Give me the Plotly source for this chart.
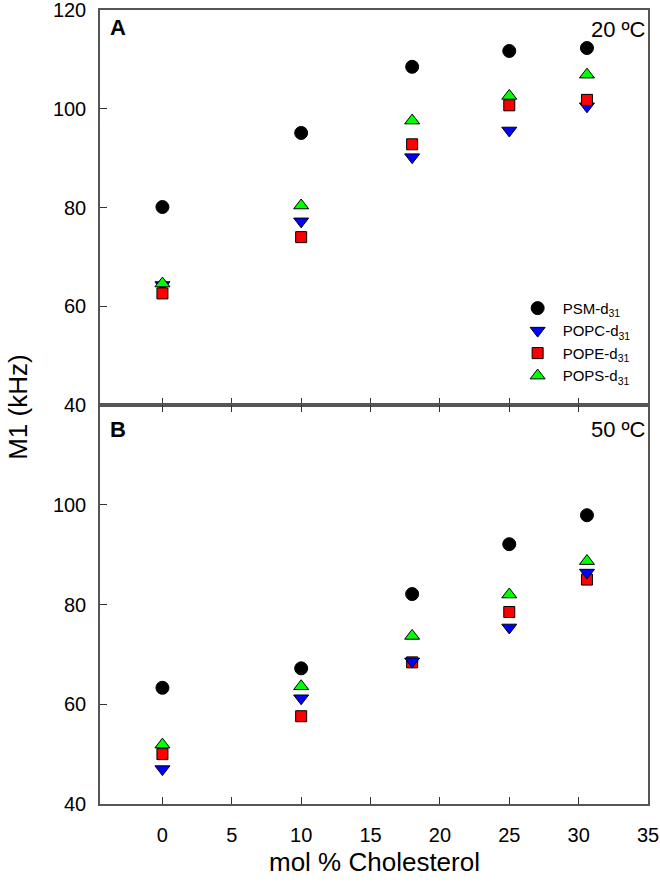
import plotly.graph_objects as go

# ---- data ----
chol = [0, 10, 18, 25, 30.6]

# Panel A: 20 ºC
psm_20 = [80.1, 95.1, 108.5, 111.7, 112.3]
popc_20 = [64.3, 77.2, 90.2, 95.6, 100.5]
pope_20 = [62.6, 74.0, 92.8, 100.7, 101.8]
pops_20 = [64.6, 80.4, 97.6, 102.6, 106.9]

# Panel B: 50 ºC
psm_50 = [63.3, 67.2, 82.1, 92.1, 97.9]
popc_50 = [47.0, 61.2, 68.6, 75.4, 86.4]
pope_50 = [50.0, 57.6, 68.4, 78.5, 85.0]
pops_50 = [51.9, 63.6, 73.7, 82.0, 88.7]

names = ["PSM-d<sub>31</sub>", "POPC-d<sub>31</sub>", "POPE-d<sub>31</sub>", "POPS-d<sub>31</sub>"]
symbols = ["circle", "triangle-down", "square", "triangle-up"]
colors = ["#000000", "#0000FF", "#FF0000", "#00FF00"]
sizes = [13, 13, 11, 13]

x_ticks = [0, 5, 10, 15, 20, 25, 30, 35]
yA_ticks = [40, 60, 80, 100, 120]
yB_ticks = [40, 60, 80, 100]

FONT = "Arial, Liberation Sans, sans-serif"

fig = go.Figure()

series_A = [psm_20, popc_20, pope_20, pops_20]
series_B = [psm_50, popc_50, pope_50, pops_50]

for i in [0, 1, 2, 3]:
    fig.add_trace(go.Scatter(
        x=chol, y=series_A[i], mode="markers", name=names[i],
        legendrank=i + 1,
        marker=dict(symbol=symbols[i], color=colors[i], size=sizes[i],
                    line=dict(color="black", width=1)),
        xaxis="x", yaxis="y", showlegend=True))

for i in [0, 2, 1, 3]:
    fig.add_trace(go.Scatter(
        x=chol, y=series_B[i], mode="markers", name=names[i],
        marker=dict(symbol=symbols[i], color=colors[i], size=sizes[i],
                    line=dict(color="black", width=1)),
        xaxis="x2", yaxis="y2", showlegend=False))

split = 0.5025
axis_common = dict(showline=True, linecolor="#555555", linewidth=1.5,
                   ticks="inside", ticklen=7, tickcolor="#333333", tickwidth=1,
                   showgrid=False, zeroline=False, automargin=False,
                   ticklabeloverflow="allow")

fig.update_layout(
    width=660, height=886,
    margin=dict(l=100, r=12, t=10, b=82),
    paper_bgcolor="white", plot_bgcolor="white",
    font=dict(family=FONT, color="black"),
    xaxis=dict(domain=[0, 1], range=[-4.5, 35], anchor="y", tickvals=x_ticks,
               showticklabels=False, mirror=True, **axis_common),
    yaxis=dict(domain=[split, 1], range=[40, 120], anchor="x", tickvals=yA_ticks,
               mirror=True, tickfont=dict(size=20), ticklabelstandoff=8, **axis_common),
    xaxis2=dict(domain=[0, 1], range=[-4.5, 35], anchor="y2", tickvals=x_ticks,
                mirror="ticks", tickfont=dict(size=20), ticklabelstandoff=12, **axis_common),
    yaxis2=dict(domain=[0, split], range=[40, 120], anchor="x2", tickvals=yB_ticks,
                mirror=True, tickfont=dict(size=20), ticklabelstandoff=8, **axis_common),
    legend=dict(x=0.753, y=0.645, xanchor="left", yanchor="top",
                bgcolor="rgba(0,0,0,0)", font=dict(size=15), tracegroupgap=0,
                itemwidth=40),
    annotations=[
        dict(text="<b>A</b>", x=0.033, y=0.978, xref="paper", yref="paper",
             showarrow=False, font=dict(size=22), xanchor="center", yanchor="middle"),
        dict(text="<b>B</b>", x=0.033, y=0.472, xref="paper", yref="paper",
             showarrow=False, font=dict(size=22), xanchor="center", yanchor="middle"),
        dict(text="20 ºC", x=1.0, y=0.976, xref="paper", yref="paper",
             showarrow=False, font=dict(size=22), xanchor="right", yanchor="middle"),
        dict(text="50 ºC", x=1.0, y=0.472, xref="paper", yref="paper",
             showarrow=False, font=dict(size=22), xanchor="right", yanchor="middle"),
        dict(text="M1 (kHz)", x=-0.15, y=0.5, xref="paper", yref="paper",
             showarrow=False, font=dict(size=26), textangle=-90,
             xanchor="center", yanchor="middle"),
        dict(text="mol % Cholesterol", x=0.5, y=-0.073, xref="paper", yref="paper",
             showarrow=False, font=dict(size=26), xanchor="center", yanchor="middle"),
    ],
)

fig.write_html("out.html", config={"displayModeBar": False},
               post_script="document.body.style.margin='0';document.body.style.padding='0';")
